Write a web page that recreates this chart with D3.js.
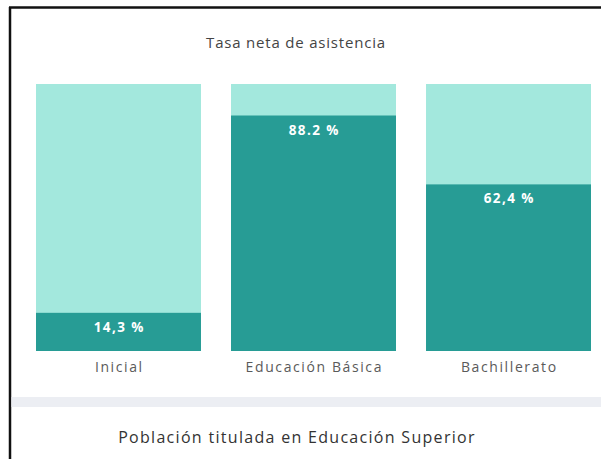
<!DOCTYPE html>
<html><head><meta charset="utf-8">
<script src="https://cdn.jsdelivr.net/npm/d3@7"></script>
<style>html,body{margin:0;padding:0;background:#fff;}svg{display:block;}</style>
</head><body>
<script>
const categories = ["Inicial", "Educación Básica", "Bachillerato"];
const values = [14.3, 88.2, 62.4];
const valueLabels = ["14,3 %", "88.2 %", "62,4 %"];
const title = "Tasa neta de asistencia";
const subtitle = "Población titulada en Educación Superior";

const W = 601, H = 459;
const svg = d3.select("body").append("svg").attr("width", W).attr("height", H);

// frame
svg.append("rect").attr("x", 0).attr("y", 0).attr("width", W).attr("height", H).attr("fill", "#fff");
svg.append("line").attr("x1", 10).attr("x2", 10).attr("y1", 7).attr("y2", H).attr("stroke", "#111").attr("stroke-width", 2.5);
svg.append("line").attr("x1", 9).attr("x2", W).attr("y1", 7.5).attr("y2", 7.5).attr("stroke", "#111").attr("stroke-width", 2.5);

svg.append("text").attr("x", 296).attr("y", 48).attr("text-anchor", "middle")
  .attr("font-family", "Open Sans, sans-serif").attr("font-size", 15).attr("letter-spacing", 0.8)
  .attr("fill", "#444").text(title);

const x = d3.scaleBand().domain(categories).range([36, 591]).paddingInner(0.154).paddingOuter(0);
const y = d3.scaleLinear().domain([0, 100]).range([351, 84]);

const g = svg.append("g");
g.selectAll("rect.bg").data(categories).join("rect").attr("class", "bg")
  .attr("x", d => x(d)).attr("width", x.bandwidth())
  .attr("y", y(100)).attr("height", y(0) - y(100)).attr("fill", "#a3e8dd");
g.selectAll("rect.val").data(values).join("rect").attr("class", "val")
  .attr("x", (d, i) => x(categories[i])).attr("width", x.bandwidth())
  .attr("y", d => y(d)).attr("height", d => y(0) - y(d)).attr("fill", "#279c95");
g.selectAll("text.val").data(values).join("text").attr("class", "val")
  .attr("x", (d, i) => x(categories[i]) + x.bandwidth() / 2 + 0.7).attr("y", d => y(d) + 19)
  .attr("text-anchor", "middle").attr("font-family", "Open Sans, sans-serif")
  .attr("font-weight", "bold").attr("font-size", 13.5).attr("letter-spacing", 1.4).attr("fill", "#fff")
  .text((d, i) => valueLabels[i]);

const axis = d3.axisBottom(x).tickSize(0).tickPadding(11);
const ax = svg.append("g").attr("transform", `translate(0,${y(0)})`).call(axis);
ax.select(".domain").remove();
ax.selectAll("text").attr("font-family", "Open Sans, sans-serif").attr("font-size", 14)
  .attr("letter-spacing", 1.6).attr("dx", 0.8).attr("fill", "#5a5a5a");

// separator band
svg.append("rect").attr("x", 11.5).attr("y", 397).attr("width", W - 11.5).attr("height", 10).attr("fill", "#eceef3");

svg.append("text").attr("x", 297).attr("y", 443).attr("text-anchor", "middle")
  .attr("font-family", "Open Sans, sans-serif").attr("font-size", 16).attr("letter-spacing", 1.3)
  .attr("fill", "#333").text(subtitle);
</script>
</body></html>
